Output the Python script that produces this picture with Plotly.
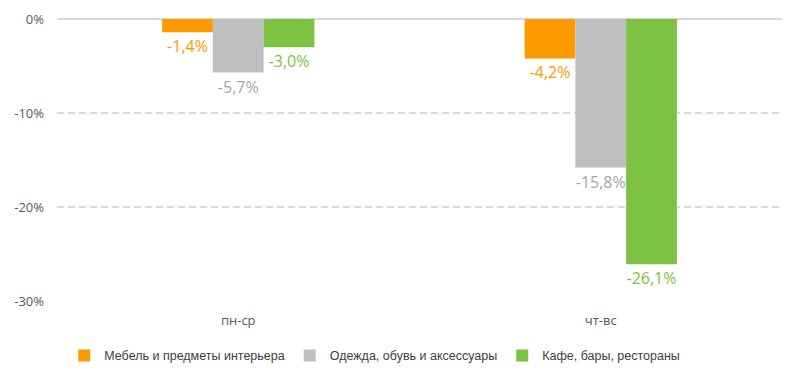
import plotly.graph_objects as go

categories = ["пн-ср", "чт-вс"]
series_names = ["Мебель и предметы интерьера", "Одежда, обувь и аксессуары", "Кафе, бары, рестораны"]
furniture = [-1.4, -4.2]
clothing = [-5.7, -15.8]
cafes = [-3.0, -26.1]
bar_colors = ["#FF9900", "#BFBFBF", "#7DC142"]
label_colors = ["#FF9900", "#A6A6A6", "#7DC142"]
y_ticks = [0, -10, -20, -30]
y_tick_labels = ["0%", "-10%", "-20%", "-30%"]

FONT = "Open Sans, Noto Sans, sans-serif"
LEGEND_FONT = "Liberation Sans Narrow, Liberation Sans, sans-serif"

def fmt(v):
    return ("%.1f" % v).replace(".", ",") + "%"

fig = go.Figure()
for name, vals, c, lc in zip(series_names, [furniture, clothing, cafes], bar_colors, label_colors):
    fig.add_trace(go.Bar(
        x=categories, y=vals, name=name,
        marker=dict(color=c, line=dict(width=0)),
        text=[fmt(v) for v in vals], textposition="outside",
        textfont=dict(color=lc, size=16, family=FONT),
        cliponaxis=False,
    ))

fig.update_layout(
    width=800, height=381,
    margin=dict(l=57, r=18, t=19, b=80, autoexpand=False),
    paper_bgcolor="white", plot_bgcolor="white",
    barmode="group", bargap=0.58, bargroupgap=0,
    font=dict(family=FONT, color="#595959", size=13),
    showlegend=True,
    legend=dict(orientation="h", x=0.01, xanchor="left", y=-0.195, yanchor="middle",
                font=dict(size=12.5, color="#404040", family=LEGEND_FONT), itemwidth=30,
                traceorder="normal"),
    xaxis=dict(showgrid=False, showline=False, ticks="", ticklabelstandoff=10,
               tickfont=dict(size=13, color="#595959")),
    yaxis=dict(range=[-30, 0], tickvals=y_ticks, ticktext=y_tick_labels,
               showgrid=True, gridcolor="#D9D9D9", griddash="7px,4px", gridwidth=1.5,
               zeroline=True, zerolinecolor="#D9D9D9", zerolinewidth=2,
               showline=False, ticks="", ticklabelstandoff=12,
               tickfont=dict(size=13, color="#595959")),
)

fig.write_html("out.html", config={"displayModeBar": False},
               post_script="document.body.style.margin='0';document.body.style.padding='0';")
